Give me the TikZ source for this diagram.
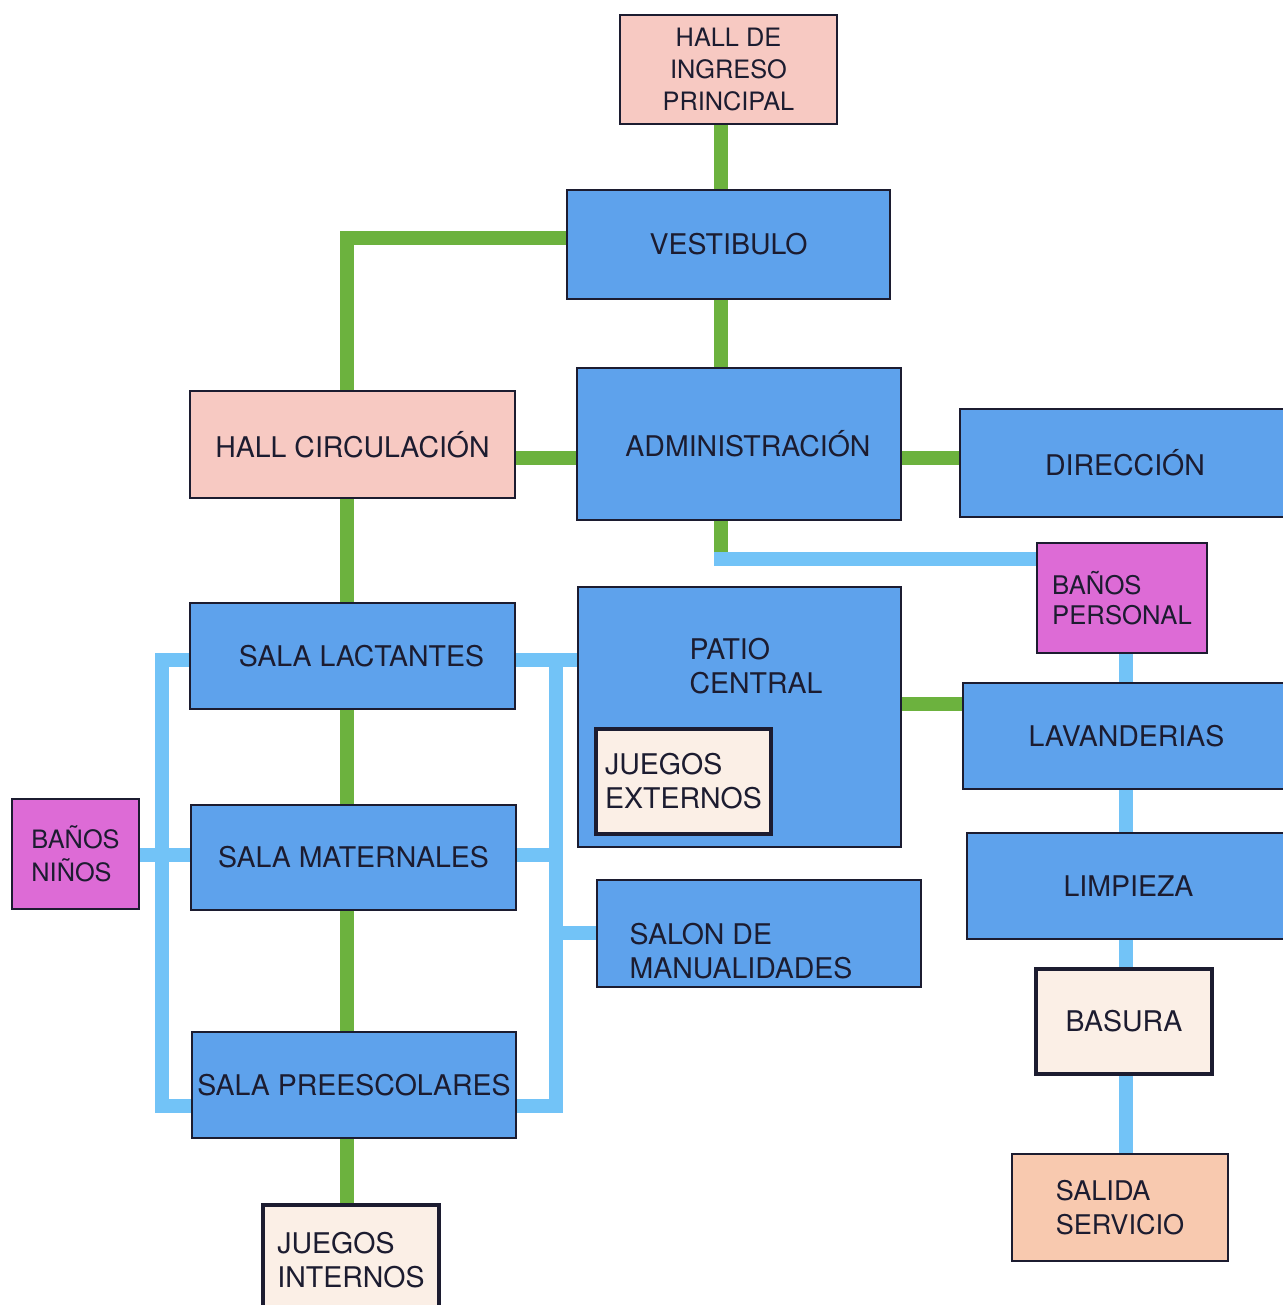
\documentclass[tikz,border=0pt]{standalone}
\usepackage{fontspec}
\setmainfont{TeX Gyre Heros}
\usetikzlibrary{backgrounds}

\definecolor{roomblue}{RGB}{94,162,236}
\definecolor{hallpink}{RGB}{247,201,194}
\definecolor{wcmagenta}{RGB}{221,107,214}
\definecolor{playcream}{RGB}{251,239,230}
\definecolor{exitpeach}{RGB}{248,201,175}
\definecolor{linkgreen}{RGB}{108,178,62}
\definecolor{linkblue}{RGB}{114,195,247}
\definecolor{inkdark}{RGB}{28,28,48}

\begin{document}
\begin{tikzpicture}[x=0.01cm, y=-0.01cm,
    greenlink/.style={draw=linkgreen, line width=0.14cm},
    bluelink/.style={draw=linkblue, line width=0.14cm, line cap=rect}]

  \useasboundingbox (0,0) rectangle (1283,1305);
  \clip (0,0) rectangle (1283,1305);

  \begin{scope}[every node/.style={rectangle, draw=inkdark, line width=0.6pt, text=inkdark,
      align=center, inner sep=0pt, font=\fontsize{8.1}{9.7}\selectfont}]
    \node[fill=hallpink, minimum width=2.17cm, minimum height=1.09cm, font=\fontsize{7.2}{9.1}\selectfont] (hallingreso) at (728.5,69.5) {HALL DE\\INGRESO\\PRINCIPAL};
    \node[fill=roomblue, minimum width=3.23cm, minimum height=1.09cm] (vestibulo) at (728.5,244.5) {VESTIBULO};
    \node[fill=hallpink, minimum width=3.25cm, minimum height=1.07cm] (hallcirc) at (352.5,444.5) {HALL CIRCULACIÓN};
    \node[fill=roomblue, minimum width=3.24cm, minimum height=1.52cm] (admin) at (739,444) {\hspace*{0.18cm}ADMINISTRACIÓN};
    \node[fill=roomblue, minimum width=3.30cm, minimum height=1.08cm] (direccion) at (1125,463) {DIRECCIÓN};
    \node[fill=wcmagenta, minimum width=1.70cm, minimum height=1.10cm, align=left, font=\fontsize{7.3}{8.6}\selectfont] (banospers) at (1122,598) {BAÑOS\\PERSONAL};

    \node[fill=roomblue, minimum width=3.23cm, minimum height=2.60cm] (patio) at (739.5,717) {};
    \node[draw=none, align=left] (patiotext) at (756,666) {PATIO\\CENTRAL};
    \node[fill=playcream, line width=1.2pt, minimum width=1.75cm, minimum height=1.05cm, align=left] (juegosext) at (683.5,781.5) {JUEGOS\\EXTERNOS};
    \node[fill=roomblue, minimum width=3.24cm, minimum height=1.07cm] (salon) at (759,933.5) {};
    \node[draw=none, align=left] (salontext) at (741,951) {SALON DE\\MANUALIDADES};

    \node[fill=roomblue, minimum width=3.27cm, minimum height=1.06cm] (lavand) at (1126.5,736) {LAVANDERIAS};
    \node[fill=roomblue, minimum width=3.23cm, minimum height=1.06cm] (limpieza) at (1128.5,886) {LIMPIEZA};
    \node[fill=playcream, line width=1.2pt, minimum width=1.76cm, minimum height=1.05cm] (basura) at (1124,1021.5) {BASURA};
    \node[fill=exitpeach, minimum width=2.16cm, minimum height=1.07cm, align=left, font=\fontsize{7.7}{9.7}\selectfont] (salida) at (1120,1207.5) {SALIDA\\SERVICIO};

    \node[fill=roomblue, minimum width=3.25cm, minimum height=1.06cm] (lactantes) at (352.5,656) {\hspace*{0.18cm}SALA LACTANTES};
    \node[fill=roomblue, minimum width=3.25cm, minimum height=1.05cm] (maternales) at (353.5,857.5) {SALA MATERNALES};
    \node[fill=roomblue, minimum width=3.24cm, minimum height=1.06cm] (preesc) at (354,1085) {SALA PREESCOLARES};
    \node[fill=wcmagenta, minimum width=1.27cm, minimum height=1.10cm, align=left, font=\fontsize{7.2}{9.3}\selectfont] (banosninos) at (75.5,854) {BAÑOS\\NIÑOS};
    \node[fill=playcream, line width=1.2pt, minimum width=1.76cm, minimum height=1.10cm, align=left] (juegosint) at (351,1260) {JUEGOS\\INTERNOS};
  \end{scope}

  % guide lines for the connectors
  \coordinate (spine) at (721,0);
  \coordinate (leftspine) at (347,0);
  \coordinate (svcspine) at (1126,0);
  \coordinate (leftbus) at (162,0);
  \coordinate (rightbus) at (556,0);
  \coordinate (vestrow) at (0,238);
  \coordinate (midrow) at (0,458);
  \coordinate (staffrow) at (721,559);
  \coordinate (toprow) at (0,660);
  \coordinate (patiorow) at (0,704);
  \coordinate (materow) at (0,855);
  \coordinate (salonrow) at (0,933);
  \coordinate (botrow) at (0,1106);

  \begin{scope}[on background layer]
    % main circulation
    \path[greenlink] (hallingreso.south -| spine) -- (vestibulo.north -| spine);
    \path[greenlink] (vestibulo.south -| spine) -- (admin.north -| spine);
    \path[greenlink] (vestibulo.west |- vestrow) -| (hallcirc.north -| leftspine);
    \path[greenlink] (hallcirc.east |- midrow) -- (admin.west |- midrow);
    \path[greenlink] (admin.east |- midrow) -- (direccion.west |- midrow);
    \path[greenlink] (admin.south -| spine) -- (staffrow);
    \path[greenlink] (hallcirc.south -| leftspine) -- (lactantes.north -| leftspine);
    \path[greenlink] (lactantes.south -| leftspine) -- (maternales.north -| leftspine);
    \path[greenlink] (maternales.south -| leftspine) -- (preesc.north -| leftspine);
    \path[greenlink] (preesc.south -| leftspine) -- (juegosint.north -| leftspine);
    \path[greenlink] (patio.east |- patiorow) -- (lavand.west |- patiorow);

    % service circulation
    \path[bluelink] (staffrow) -- (banospers.west |- staffrow);
    \path[bluelink] (banospers.south -| svcspine) -- (lavand.north -| svcspine);
    \path[bluelink] (lavand.south -| svcspine) -- (limpieza.north -| svcspine);
    \path[bluelink] (limpieza.south -| svcspine) -- (basura.north -| svcspine);
    \path[bluelink] (basura.south -| svcspine) -- (salida.north -| svcspine);

    % children's rooms
    \path[bluelink] (lactantes.west |- toprow) -| (leftbus |- botrow) -- (preesc.west |- botrow);
    \path[bluelink] (banosninos.east |- materow) -- (maternales.west |- materow);
    \path[bluelink] (lactantes.east |- toprow) -- (patio.west |- toprow);
    \path[bluelink] (rightbus |- toprow) -- (rightbus |- botrow) -- (preesc.east |- botrow);
    \path[bluelink] (maternales.east |- materow) -- (rightbus |- materow);
    \path[bluelink] (rightbus |- salonrow) -- (salon.west |- salonrow);
  \end{scope}

\end{tikzpicture}
\end{document}
